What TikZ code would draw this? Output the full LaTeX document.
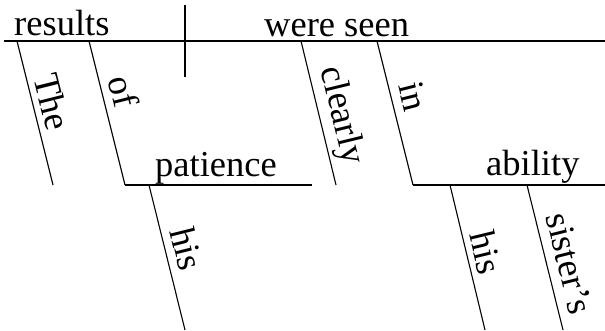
\documentclass[tikz,border=0pt]{standalone}
\usepackage{fontspec}
\setmainfont{Liberation Serif}
\usetikzlibrary{positioning}

\tikzset{
	word/.style={anchor=base west, inner sep=0pt, font=\fontsize{36.5}{40}\selectfont},
	lab/.style={word, sloped},
	baseline rule/.style={line width=1.6pt},
	thin rule/.style={line width=1.1pt}
}

\begin{document}
\begin{tikzpicture}[x=1pt,y=-1pt]
	\useasboundingbox (0,0) rectangle (605,330);
	
	\coordinate(B1) at (4,41);
	\coordinate(B2) at (605,41);
	\draw[baseline rule] (B1) -- (B2);
	
	\coordinate(D1) at (185,5);
	\coordinate(D2) at (185,77);
	\draw[thin rule] (D1) -- (D2);
	
	\node[word](SUBJ) at (14,35){results};
	\node[word](VERB) at (264,36){were seen};
	
	\coordinate(THE1) at (17,41);
	\coordinate(THE2) at (53,185);
	\draw[thin rule] (THE1) -- node[lab, pos=0.26, yshift=7pt](THE){The} (THE2);
	
	\coordinate(OF1) at (89,41);
	\coordinate(OF2) at (125,185);
	\coordinate(PAT2) at (312,185);
	\draw[thin rule] (OF1) -- node[lab, pos=0.28, yshift=9pt](OF){of} (OF2);
	\draw[baseline rule] (OF2) -- (PAT2);
	\node[word](PAT) at (155,176){patience};
	
	\coordinate(HIS1) at (149,185);
	\coordinate(HIS2) at (185,330);
	\draw[thin rule] (HIS1) -- node[lab, pos=0.33, yshift=9pt](HIS){his} (HIS2);
	
	\coordinate(CLR1) at (301,41);
	\coordinate(CLR2) at (336,185);
	\draw[thin rule] (CLR1) -- node[lab, pos=0.215, yshift=12.5pt](CLR){clearly} (CLR2);
	
	\coordinate(IN1) at (377,41);
	\coordinate(IN2) at (413,185);
	\coordinate(ABL2) at (605,185);
	\draw[thin rule] (IN1) -- node[lab, pos=0.32, yshift=10pt](IN){in} (IN2);
	\draw[baseline rule] (IN2) -- (ABL2);
	\node[word](ABL) at (486,175){ability};
	
	\coordinate(HISB1) at (450,185);
	\coordinate(HISB2) at (485,330);
	\draw[thin rule] (HISB1) -- node[lab, pos=0.35, yshift=7pt](HISB){his} (HISB2);
	
	\coordinate(SIS1) at (527,185);
	\coordinate(SIS2) at (563,330);
	\draw[thin rule] (SIS1) -- node[lab, pos=0.23, yshift=10.5pt](SIS){sister's} (SIS2);
\end{tikzpicture}
\end{document}
